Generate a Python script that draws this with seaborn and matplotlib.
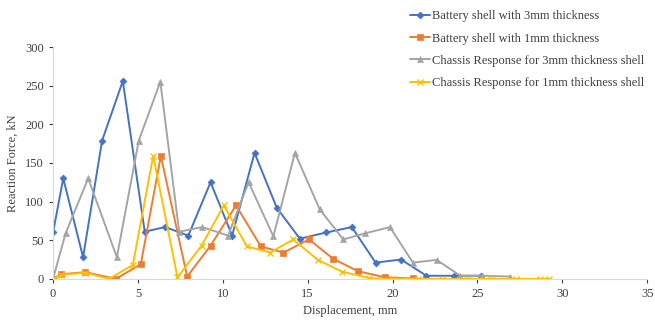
import numpy as np
import pandas as pd
import matplotlib
matplotlib.use("Agg")
import matplotlib.pyplot as plt
import seaborn as sns

# ── data ─────────────────────────────────────────────────────────────────────
blue_x = [0, 0, 0.6, 1.77, 2.89, 4.11, 5.4, 6.59, 7.97, 9.28, 10.55, 11.87,
          13.18, 14.54, 16.1, 17.6, 19.0, 20.5, 22.0, 23.6, 25.2]
blue_y = [0, 60, 130, 28, 179, 256, 61, 67, 56, 125, 56, 163,
          92, 52, 60, 67, 21, 25, 4, 4, 4]

orange_x = [0, 0.47, 1.9, 3.7, 5.17, 6.35, 7.9, 9.28, 10.78, 12.24, 13.57,
            15.08, 16.5, 17.95, 19.55, 21.2]
orange_y = [0, 6, 8.6, 0, 19, 159, 3, 43, 95, 42, 34,
            51, 26, 10, 2, 0.5]

gray_x = [0, 0.74, 2.07, 3.76, 5.05, 6.32, 7.43, 8.79, 10.31, 11.52, 12.98,
          14.25, 15.71, 17.1, 18.4, 19.85, 21.2, 22.6, 24.0, 25.3, 26.9]
gray_y = [0, 59, 130, 28, 179, 255, 61, 67, 56, 125, 55,
          163, 90, 51, 59, 67, 21, 24.5, 4, 4, 3]

yellow_x = [0, 0.45, 1.9, 3.3, 4.7, 5.9, 7.33, 8.75, 10.06, 11.42, 12.79,
            14.15, 15.6, 17.0, 18.6, 20.0, 21.5, 22.9, 24.4, 25.8, 27.3, 28.7, 29.2]
yellow_y = [0, 5, 8, 0, 18, 159, 2, 43, 95, 42, 34,
            51, 24.5, 9.5, 1, 0, 0, 0, 0, 0, 0, 0, 0]

labels = ["Battery shell with 3mm thickness",
          "Battery shell with 1mm thickness",
          "Chassis Response for 3mm thickness shell",
          "Chassis Response for 1mm thickness shell"]

# ── styling ──────────────────────────────────────────────────────────────────
sns.set_theme(style="white")
plt.rcParams["font.family"] = ["Liberation Serif", "DejaVu Serif"]

fig = plt.figure(figsize=(6.55, 3.22), dpi=100)
ax = fig.add_axes([0.081, 0.134, 0.907, 0.72])

series = [
    (blue_x, blue_y, "#4472C4", "D", 3.5, labels[0]),
    (orange_x, orange_y, "#ED7D31", "s", 5, labels[1]),
    (gray_x, gray_y, "#A5A5A5", "^", 5, labels[2]),
    (yellow_x, yellow_y, "#FFC000", "x", 5, labels[3]),
]
for xs, ys, col, mk, ms, lab in series:
    sns.lineplot(x=xs, y=ys, ax=ax, color=col, marker=mk, markersize=ms,
                 markeredgecolor=col, markeredgewidth=1 if mk == "x" else 0.5,
                 linewidth=1.4, estimator=None, sort=False, label=lab)

ax.set_xlim(0, 35)
ax.set_ylim(0, 300)
ax.set_xticks(np.arange(0, 36, 5))
ax.set_yticks(np.arange(0, 301, 50))
ax.tick_params(axis="both", labelsize=9, colors="#404040", length=3,
               width=0.8, direction="out", bottom=True, left=True)
for t in ax.get_xticklines() + ax.get_yticklines():
    t.set_color("#d9d9d9")
for side in ["top", "right"]:
    ax.spines[side].set_visible(False)
for side in ["left", "bottom"]:
    ax.spines[side].set_color("#d9d9d9")
    ax.spines[side].set_linewidth(0.8)

ax.set_xlabel("Displacement, mm", fontsize=9, color="#404040", labelpad=4)
ax.set_ylabel("Reaction Force, kN", fontsize=9, color="#404040", labelpad=5)

leg = ax.legend(loc="upper left", bbox_to_anchor=(0.593, 1.18), frameon=False,
                fontsize=9, handlelength=1.6, handletextpad=0.1,
                labelspacing=0.82, borderaxespad=0)
for txt in leg.get_texts():
    txt.set_color("#404040")

fig.savefig("out.png", dpi=100)
